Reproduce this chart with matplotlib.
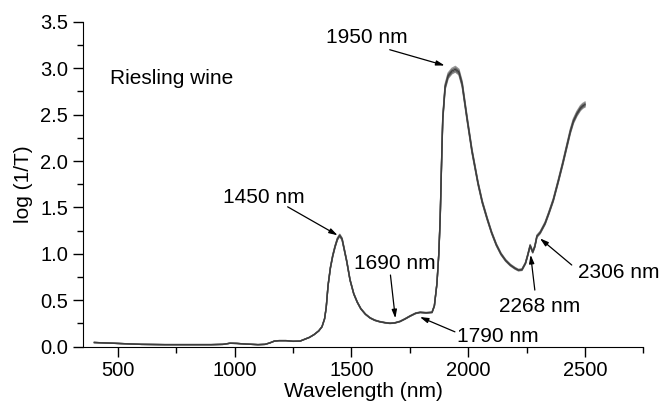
import numpy as np
import matplotlib.pyplot as plt
from matplotlib.ticker import MultipleLocator

plt.rcParams['font.family'] = ['Liberation Sans', 'DejaVu Sans']

# NIR spectrum of Riesling wine
wavelength = [400, 450, 500, 600, 700, 800, 900, 950, 980, 1010, 1050, 1100, 1130,
              1150, 1170, 1190, 1220, 1250, 1280, 1300, 1320, 1340, 1360, 1374, 1385,
              1392, 1400, 1410, 1420, 1430, 1440, 1450, 1460, 1470, 1480, 1494, 1510,
              1525, 1540, 1560, 1580, 1600, 1620, 1645, 1665, 1685, 1708, 1730, 1751,
              1775, 1794, 1820, 1845, 1855, 1866, 1874, 1880, 1887, 1891, 1901, 1914,
              1930, 1945, 1960, 1974, 1995, 2016, 2042, 2060, 2081, 2100, 2120, 2140,
              2160, 2180, 2200, 2215, 2230, 2245, 2255, 2265, 2276, 2285, 2294, 2308,
              2329, 2345, 2364, 2386, 2405, 2420, 2437, 2450, 2465, 2480, 2490, 2500]
absorbance = [0.045, 0.04, 0.035, 0.025, 0.022, 0.022, 0.022, 0.025, 0.037, 0.035, 0.028,
              0.022, 0.025, 0.04, 0.06, 0.065, 0.065, 0.058, 0.06, 0.08, 0.10, 0.13, 0.17,
              0.215, 0.30, 0.42, 0.66, 0.85, 0.98, 1.08, 1.16, 1.20, 1.16, 1.04, 0.92, 0.72,
              0.57, 0.48, 0.41, 0.35, 0.31, 0.285, 0.27, 0.258, 0.252, 0.256, 0.272, 0.30,
              0.33, 0.36, 0.37, 0.365, 0.37, 0.44, 0.68, 1.0, 1.39, 2.1, 2.46, 2.8, 2.92,
              2.97, 2.99, 2.96, 2.83, 2.46, 2.11, 1.76, 1.56, 1.38, 1.23, 1.10, 1.00, 0.93,
              0.88, 0.845, 0.825, 0.83, 0.90, 0.99, 1.09, 1.02, 1.08, 1.19, 1.23, 1.33, 1.44,
              1.58, 1.79, 1.98, 2.14, 2.32, 2.43, 2.51, 2.57, 2.595, 2.61]
# replicate spectra differ slightly in intensity
sample_scale = [1.01, 0.99, 1.005, 0.995, 1.0]
sample_color = ['#9a9a9a', '#8a8a8a', '#707070', '#606060', '#3c3c3c']

wl = np.array(wavelength)
ab = np.array(absorbance)

fig = plt.figure(figsize=(6.62, 4.05), dpi=100)
ax = fig.add_axes([0.125, 0.144, 0.847, 0.802])

for s, c in zip(sample_scale, sample_color):
    ax.plot(wl, ab * s, color=c, lw=1.0)

ax.set_xlim(350, 2750)
ax.set_ylim(0, 3.5)
ax.xaxis.set_major_locator(MultipleLocator(500))
ax.xaxis.set_minor_locator(MultipleLocator(250))
ax.yaxis.set_major_locator(MultipleLocator(0.5))
ax.yaxis.set_minor_locator(MultipleLocator(0.25))
ax.yaxis.set_major_formatter(plt.FormatStrFormatter('%.1f'))
ax.spines['top'].set_visible(False)
ax.spines['right'].set_visible(False)
ax.tick_params(which='major', direction='out', length=7, width=1, labelsize=14.5)
ax.tick_params(which='minor', direction='out', length=4, width=1)
ax.set_xlabel('Wavelength (nm)', fontsize=15, labelpad=1)
ax.set_ylabel('log (1/T)', fontsize=15, labelpad=5)

ax.text(466, 2.83, 'Riesling wine', fontsize=15, ha='left', va='baseline')

arrow = dict(arrowstyle='-|>,head_length=0.5,head_width=0.15', color='black',
             lw=0.9, shrinkA=0, shrinkB=0)
labels = [
    ('1950 nm', (1390, 3.267), (1664, 3.20), (1899, 3.03)),
    ('1450 nm', (950, 1.543), (1227, 1.507), (1441, 1.20)),
    ('1690 nm', (1510, 0.833), (1667, 0.772), (1688, 0.306)),
    ('1790 nm', (1950, 0.054), (1943, 0.16), (1793, 0.32)),
    ('2268 nm', (2131, 0.377), (2285, 0.61), (2267, 0.99)),
    ('2306 nm', (2471, 0.736), (2443, 0.88), (2307, 1.167)),
]
for txt, pos, tail, head in labels:
    ax.text(pos[0], pos[1], txt, fontsize=15, ha='left', va='baseline')
    ax.annotate('', xy=head, xytext=tail, arrowprops=arrow)

fig.savefig('out.png', dpi=100)
